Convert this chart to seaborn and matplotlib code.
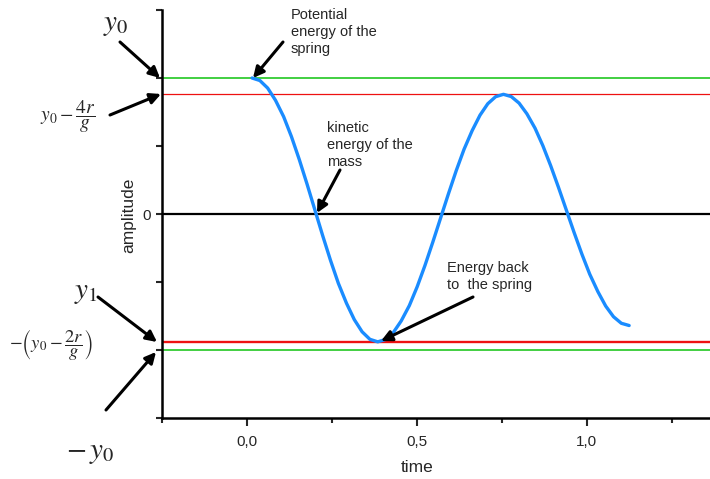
import matplotlib
matplotlib.use("Agg")
import matplotlib.pyplot as plt
import seaborn as sns
import pandas as pd

# Displacement of the mass on the spring (damped by dry friction)
time = [0.015, 0.038, 0.061, 0.084, 0.108, 0.131, 0.154, 0.177, 0.200, 0.223,
        0.246, 0.269, 0.293, 0.316, 0.339, 0.362, 0.385, 0.408, 0.431, 0.454,
        0.478, 0.501, 0.524, 0.547, 0.570, 0.593, 0.616, 0.639, 0.663, 0.686,
        0.709, 0.732, 0.755, 0.778, 0.801, 0.824, 0.848, 0.871, 0.894, 0.917,
        0.940, 0.963, 0.986, 1.009, 1.033, 1.056, 1.079, 1.102, 1.125]
amplitude = [2.000, 1.963, 1.852, 1.673, 1.432, 1.138, 0.802, 0.439, 0.060, -0.319,
             -0.682, -1.018, -1.312, -1.553, -1.732, -1.843, -1.880, -1.845, -1.742, -1.573,
             -1.347, -1.071, -0.757, -0.415, -0.060, 0.295, 0.637, 0.951, 1.227, 1.453,
             1.622, 1.725, 1.760, 1.727, 1.631, 1.474, 1.262, 1.005, 0.711, 0.392,
             0.060, -0.272, -0.591, -0.885, -1.142, -1.354, -1.511, -1.607, -1.640]

# Reference levels
y0 = 2.0
upper_after_cycle = 1.76      # y0 - 4r/g
lower_after_half = -1.88      # -(y0 - 2r/g)

x_ticks = [0.0, 0.5, 1.0]
x_tick_labels = ["0,0", "0,5", "1,0"]
x_minor_ticks = [-0.25, 0.25, 0.75, 1.25]
y_ticks = [-3, -2, -1, 0, 1, 2, 3]
y_tick_labels = ["", "", "", "0", "", "", ""]

sns.set_style("ticks")
plt.rcParams["font.family"] = ["Liberation Sans", "DejaVu Sans"]
plt.rcParams["mathtext.fontset"] = "stix"

W, H = 710, 479
fig = plt.figure(figsize=(W / 100, H / 100), dpi=100)
ax = fig.add_axes([162 / W, 1 - 418 / H, 1 - 162 / W, (418 - 10) / H])


def P(x, y):
    """Pixel position (from the top-left corner) to figure fraction."""
    return (x / W, 1 - y / H)


# Horizontal reference lines
ax.axhline(y0, color="#33cc33", lw=1.3, zorder=1)
ax.axhline(-y0, color="#33cc33", lw=1.3, zorder=1)
ax.axhline(upper_after_cycle, color="#ee1111", lw=0.9, zorder=1)
ax.axhline(lower_after_half, color="#ee1111", lw=1.7, zorder=1)
ax.axhline(0, color="black", lw=1.6, zorder=1)

df = pd.DataFrame({"time": time, "amplitude": amplitude})
sns.lineplot(data=df, x="time", y="amplitude", ax=ax, color="#1a8cff",
             lw=2.4, sort=False, zorder=3)

ax.set_xlim(-0.25, 1.363)
ax.set_ylim(-3, 3)
ax.set_xticks(x_ticks)
ax.set_xticklabels(x_tick_labels)
ax.set_xticks(x_minor_ticks, minor=True)
ax.set_yticks(y_ticks)
ax.set_yticklabels(y_tick_labels)
ax.tick_params(axis="x", which="major", length=6, width=1.5, labelsize=11, pad=6)
ax.tick_params(axis="x", which="minor", length=3.5, width=1.5)
ax.tick_params(axis="y", which="major", length=4, width=1.5, labelsize=11, pad=4)

sns.despine(ax=ax)
for side in ("left", "bottom"):
    ax.spines[side].set_linewidth(1.8)
    ax.spines[side].set_color("black")

ax.set_xlabel("time", fontsize=12.5)
ax.xaxis.set_label_coords((416.7 - 161) / 549, (418 - 468) / 408)
ax.xaxis.label.set_va("center")
ax.set_ylabel("amplitude", fontsize=12.5)
ax.yaxis.set_label_coords((128 - 161) / 549, (418 - 215) / 408)
ax.yaxis.label.set_va("center")

arrow = dict(arrowstyle="-|>", color="black", lw=2.2, mutation_scale=16,
             shrinkA=0, shrinkB=0)

# Energy annotations inside the plot
fig.text(*P(291, 8), "Potential\nenergy of the\nspring", fontsize=10.5,
         ha="left", va="top", linespacing=1.25)
ax.annotate("", xy=P(253, 78), xycoords="figure fraction",
            xytext=P(283, 42), textcoords="figure fraction", arrowprops=arrow)

fig.text(*P(327, 121), "kinetic\nenergy of the\nmass", fontsize=10.5,
         ha="left", va="top", linespacing=1.25)
ax.annotate("", xy=P(317, 213), xycoords="figure fraction",
            xytext=P(340, 170), textcoords="figure fraction", arrowprops=arrow)

fig.text(*P(447, 261), "Energy back\nto  the spring", fontsize=10.5,
         ha="left", va="top", linespacing=1.25)
ax.annotate("", xy=P(381, 341), xycoords="figure fraction",
            xytext=P(473, 297), textcoords="figure fraction", arrowprops=arrow)

# Level labels on the left
fig.text(*P(116, 24), r"$y_0$", fontsize=21, ha="center", va="center")
ax.annotate("", xy=P(160, 78), xycoords="figure fraction",
            xytext=P(120, 42), textcoords="figure fraction",
            arrowprops=arrow, annotation_clip=False)

fig.text(*P(68, 117), r"$y_0-\dfrac{4r}{g}$", fontsize=14, ha="center", va="center")
ax.annotate("", xy=P(161, 94), xycoords="figure fraction",
            xytext=P(110, 115), textcoords="figure fraction",
            arrowprops=arrow, annotation_clip=False)

fig.text(*P(86, 292), r"$y_1$", fontsize=21, ha="center", va="center")
ax.annotate("", xy=P(157, 342), xycoords="figure fraction",
            xytext=P(98, 297), textcoords="figure fraction",
            arrowprops=arrow, annotation_clip=False)

fig.text(*P(51, 344), r"$-\left(y_0-\dfrac{2r}{g}\right)$", fontsize=13.3,
         ha="center", va="center")

fig.text(*P(90, 452), r"$-\,y_0$", fontsize=21, ha="center", va="center")
ax.annotate("", xy=P(156, 352), xycoords="figure fraction",
            xytext=P(106, 410), textcoords="figure fraction",
            arrowprops=arrow, annotation_clip=False)

fig.savefig("out.png", dpi=100)
